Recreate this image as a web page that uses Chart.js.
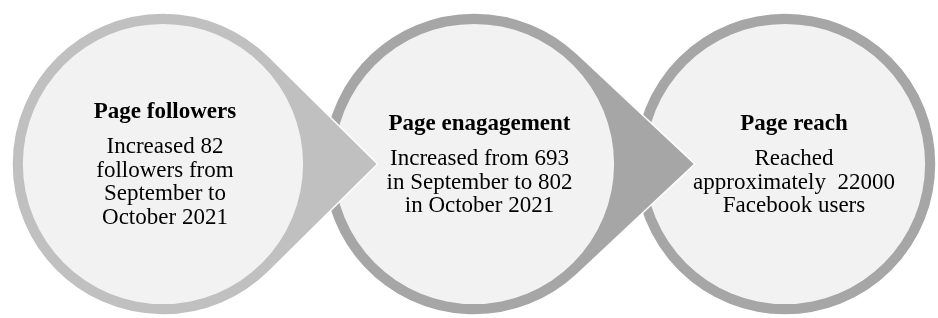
<!DOCTYPE html>
<html>
<head>
<meta charset="utf-8">
<script src="https://cdn.jsdelivr.net/npm/chart.js@4.4.0/dist/chart.umd.min.js"></script>
<style>
  html, body { margin: 0; padding: 0; background: #fff; }
  #wrap { width: 938px; height: 318px; }
</style>
</head>
<body>
<div id="wrap"><canvas id="flowChart"></canvas></div>
<script>
// Datos del diagrama
const steps = ['Page followers', 'Page enagagement', 'Page reach'];
const notes = [
  ['Increased 82', 'followers from', 'September to', 'October 2021'],
  ['Increased from 693', 'in September to 802', 'in October 2021'],
  ['Reached', 'approximately  22000', 'Facebook users']
];
const stepIndex = [0, 1, 2];

// Estilos
const ringColors = ['#c0c0c0', '#a6a6a6', '#a6a6a6'];
const fillColor = '#f2f2f2';
const outerR = 0.4855;   // radio exterior en unidades del eje x
const innerR = 0.4505;   // radio interior
const tipDist = [0.69, 0.71];  // distancia de la punta de cada flecha

const flowPlugin = {
  id: 'flow',
  afterDatasetsDraw(chart) {
    const ctx = chart.ctx;
    const xs = chart.scales.x;
    const meta = chart.getDatasetMeta(0);
    const unit = xs.getPixelForValue(1) - xs.getPixelForValue(0);
    const R = outerR * unit, r = innerR * unit;

    ctx.save();
    // dibujar de derecha a izquierda para que las flechas queden encima
    for (let i = meta.data.length - 1; i >= 0; i--) {
      const { x, y } = meta.data[i];
      ctx.beginPath();
      if (i < meta.data.length - 1) {
        const d = tipDist[i] * unit;
        const t = Math.acos(R / d);
        ctx.moveTo(x + d, y);
        ctx.lineTo(x + R * Math.cos(t), y + R * Math.sin(t));
        ctx.arc(x, y, R, t, 2 * Math.PI - t, false);
        ctx.closePath();
      } else {
        ctx.arc(x, y, R, 0, 2 * Math.PI);
      }
      ctx.fillStyle = ringColors[i];
      ctx.fill();
      ctx.lineWidth = 1.5;
      ctx.strokeStyle = '#ffffff';
      ctx.stroke();

      ctx.beginPath();
      ctx.arc(x, y, r, 0, 2 * Math.PI);
      ctx.fillStyle = fillColor;
      ctx.fill();
    }

    // textos
    ctx.fillStyle = '#000';
    ctx.textAlign = 'center';
    ctx.textBaseline = 'middle';
    const titleGap = 35, lh = 23.5;
    meta.data.forEach((pt, i) => {
      const lines = notes[i];
      const tx = pt.x + 2 + i * 3.5;
      let ty = pt.y + 1 - (titleGap + (lines.length - 1) * lh) / 2;
      ctx.font = 'bold 23px "Liberation Serif"';
      ctx.fillText(steps[i], tx, ty);
      ty += titleGap;
      ctx.font = '23px "Liberation Serif"';
      lines.forEach(l => { ctx.fillText(l, tx, ty); ty += lh; });
    });
    ctx.restore();
  }
};

const ctx = document.getElementById('flowChart').getContext('2d');
new Chart(ctx, {
  type: 'scatter',
  data: {
    datasets: [{
      label: 'Etapas',
      data: stepIndex.map(i => ({ x: i, y: 0 })),
      pointRadius: 0,
      pointHoverRadius: 0
    }]
  },
  options: {
    responsive: true,
    maintainAspectRatio: false,
    animation: false,
    layout: { padding: { top: 10, bottom: 0, left: 0, right: 0 } },
    plugins: { legend: { display: false }, tooltip: { enabled: false } },
    scales: {
      x: { type: 'linear', min: -0.524, max: 2.492, display: false },
      y: { type: 'linear', min: -1, max: 1, display: false }
    }
  },
  plugins: [flowPlugin]
});
</script>
</body>
</html>
